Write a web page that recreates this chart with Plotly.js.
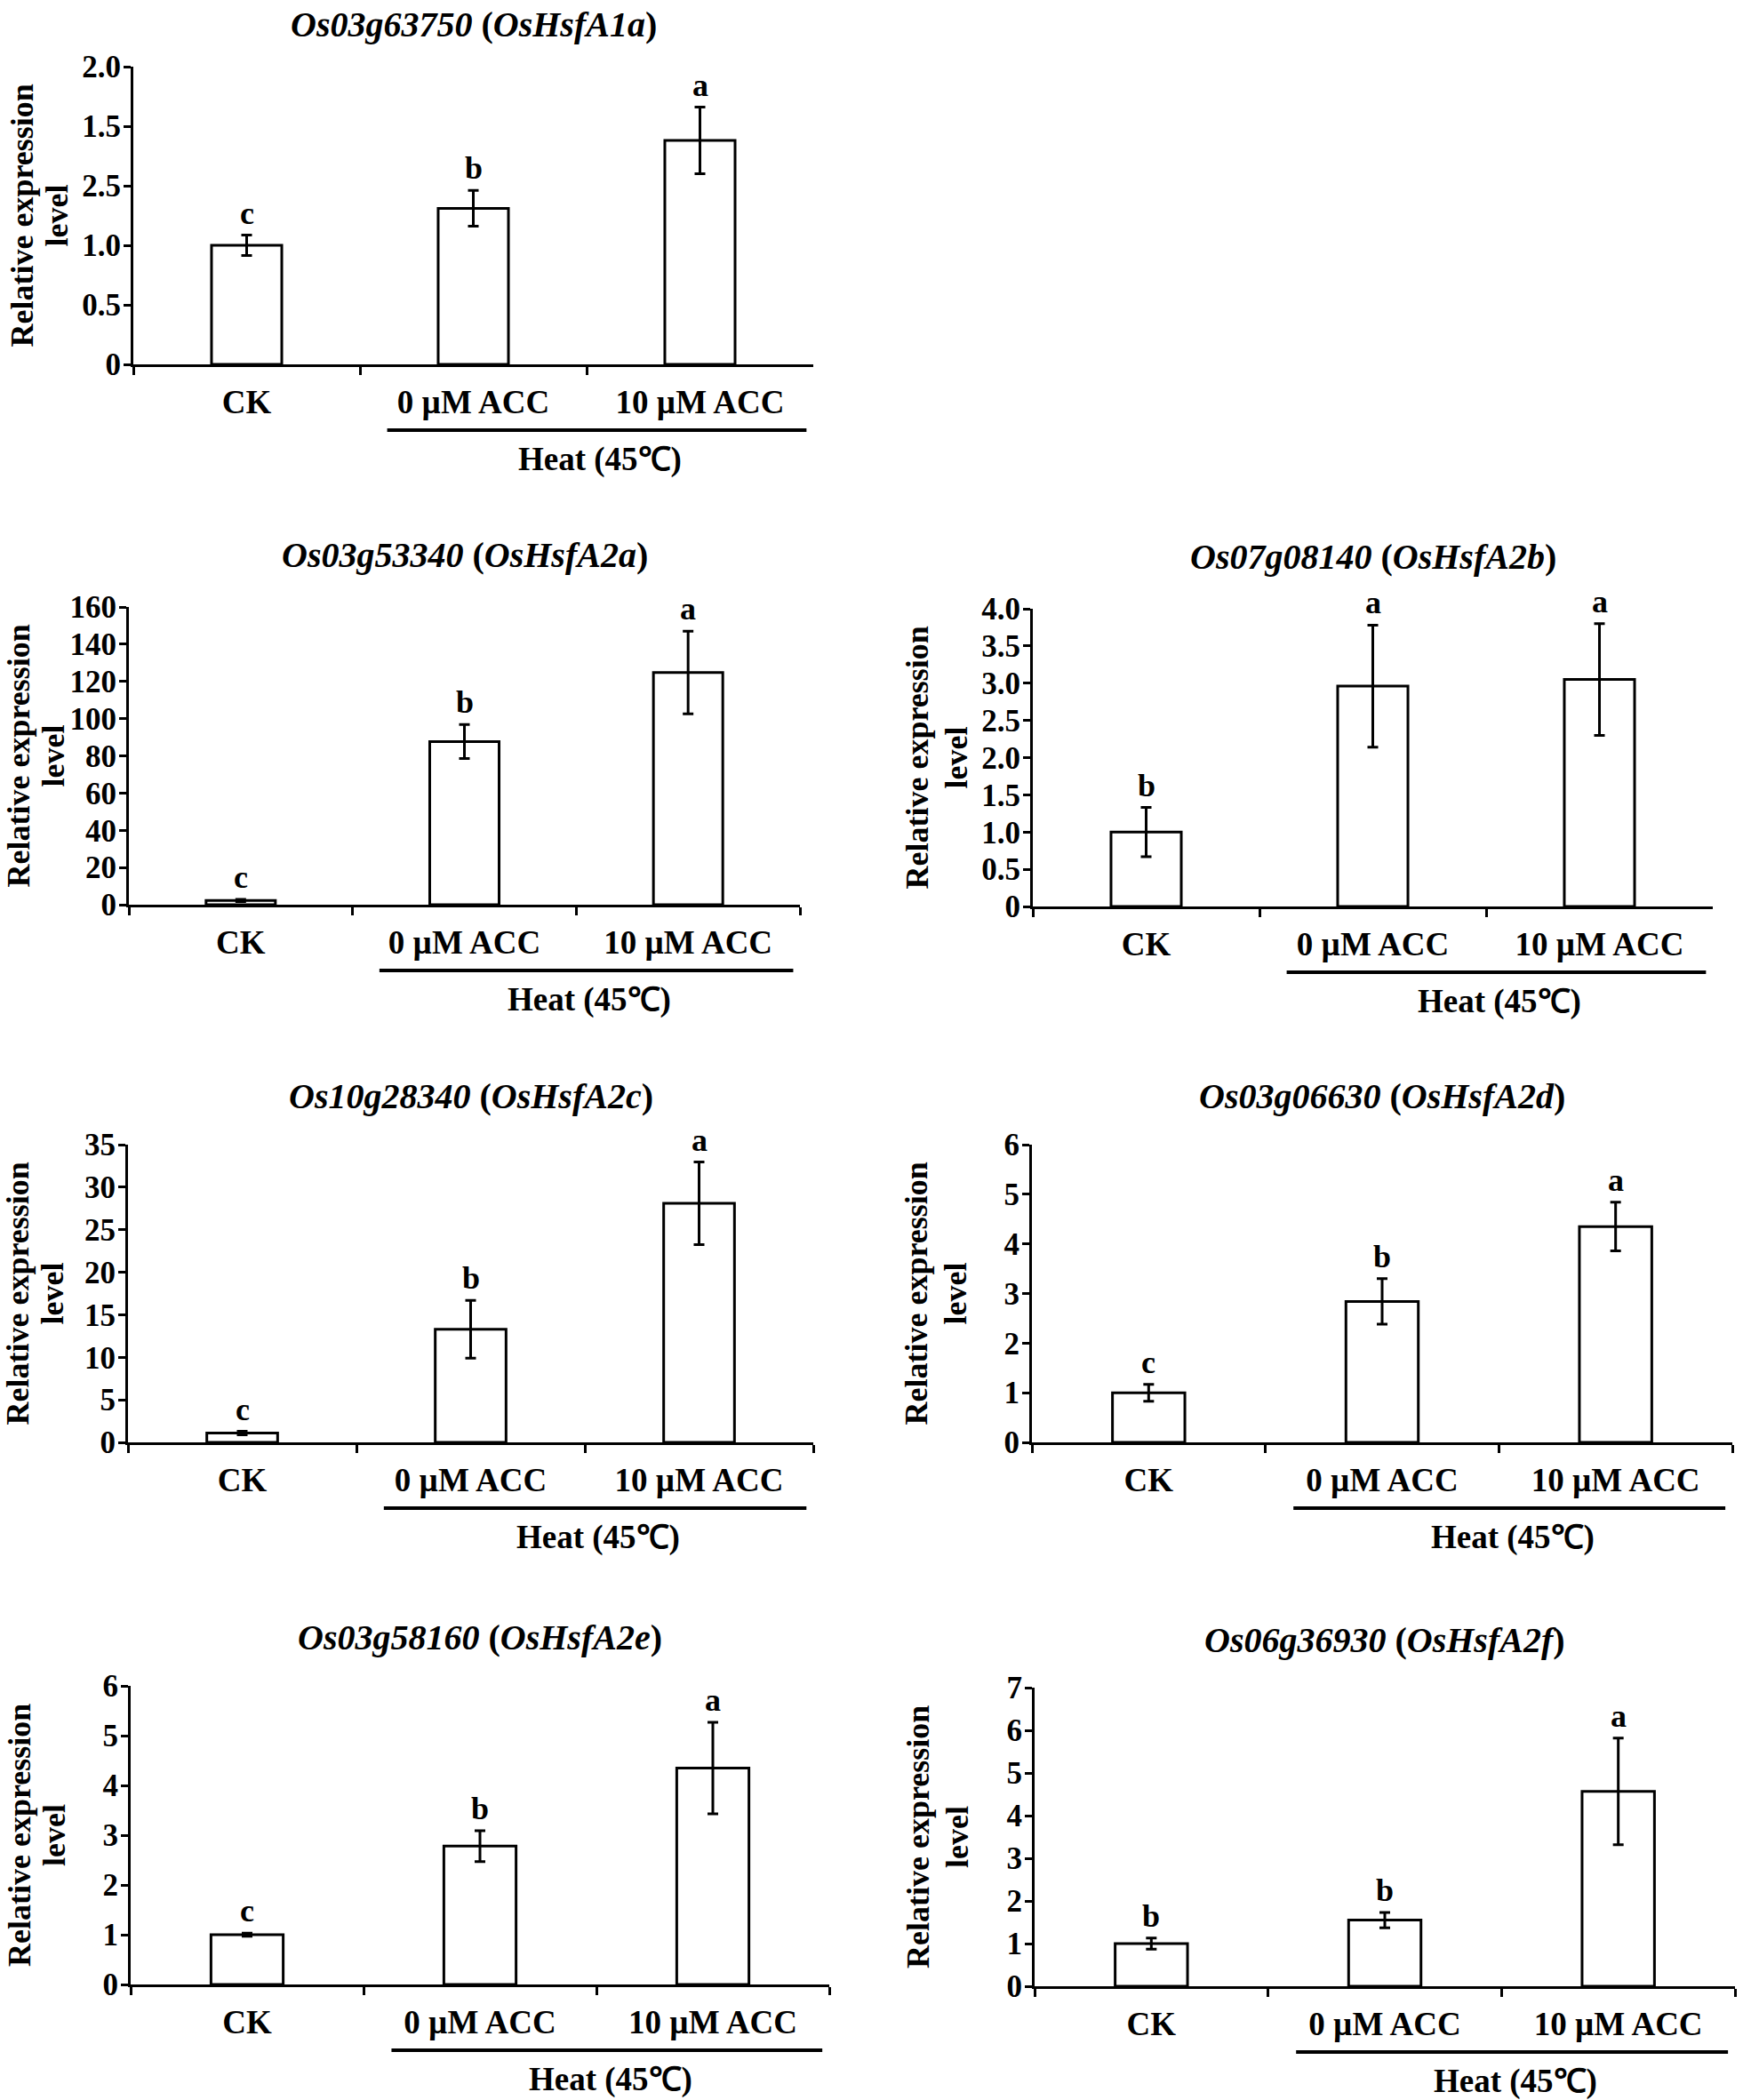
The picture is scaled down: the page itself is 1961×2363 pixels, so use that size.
<!DOCTYPE html>
<html>
<head>
<meta charset="utf-8">
<script src="https://cdn.plot.ly/plotly-3.0.1.min.js"></script>
<style>html,body{margin:0;padding:0;background:#fff}</style>
</head>
<body>
<div id="chart" style="width:1961px;height:2363px"></div>
<script>
// ---------------- data ----------------
const categories = ["CK", "0 µM ACC", "10 µM ACC"];
const groupLabel = "Heat (45℃)";
const yTitleLines = ["Relative expression", "level"];

const geneIds   = ["Os03g63750", "Os03g53340", "Os07g08140", "Os10g28340", "Os03g06630", "Os03g58160", "Os06g36930"];
const geneNames = ["OsHsfA1a",   "OsHsfA2a",   "OsHsfA2b",   "OsHsfA2c",   "OsHsfA2d",   "OsHsfA2e",   "OsHsfA2f"];

const meanA1a = [1.0, 1.31, 1.88];   const errA1a = [0.085, 0.15, 0.28];  const letA1a = ["c", "b", "a"];
const meanA2a = [2.3, 87.7, 124.8];  const errA2a = [0.6, 9.1, 22.2];     const letA2a = ["c", "b", "a"];
const meanA2b = [1.0, 2.96, 3.05];   const errA2b = [0.33, 0.82, 0.75];   const letA2b = ["b", "a", "a"];
const meanA2c = [1.1, 13.3, 28.1];   const errA2c = [0.2, 3.4, 4.85];     const letA2c = ["c", "b", "a"];
const meanA2d = [1.0, 2.84, 4.35];   const errA2d = [0.17, 0.46, 0.49];   const letA2d = ["c", "b", "a"];
const meanA2e = [1.0, 2.78, 4.35];   const errA2e = [0.03, 0.31, 0.92];   const letA2e = ["c", "b", "a"];
const meanA2f = [1.0, 1.55, 4.57];   const errA2f = [0.13, 0.18, 1.25];   const letA2f = ["b", "b", "a"];

// tick values and the tick labels exactly as printed
const tvA1a = [0, 0.5, 1, 1.5, 2, 2.5];                 const ttA1a = ["0", "0.5", "1.0", "2.5", "1.5", "2.0"];
const tvA2a = [0, 20, 40, 60, 80, 100, 120, 140, 160];  const ttA2a = ["0", "20", "40", "60", "80", "100", "120", "140", "160"];
const tvA2b = [0, 0.5, 1, 1.5, 2, 2.5, 3, 3.5, 4];      const ttA2b = ["0", "0.5", "1.0", "1.5", "2.0", "2.5", "3.0", "3.5", "4.0"];
const tvA2c = [0, 5, 10, 15, 20, 25, 30, 35];           const ttA2c = ["0", "5", "10", "15", "20", "25", "30", "35"];
const tvA2d = [0, 1, 2, 3, 4, 5, 6];                    const ttA2d = ["0", "1", "2", "3", "4", "5", "6"];
const tvA2e = [0, 1, 2, 3, 4, 5, 6];                    const ttA2e = ["0", "1", "2", "3", "4", "5", "6"];
const tvA2f = [0, 1, 2, 3, 4, 5, 6, 7];                 const ttA2f = ["0", "1", "2", "3", "4", "5", "6", "7"];

const means   = [meanA1a, meanA2a, meanA2b, meanA2c, meanA2d, meanA2e, meanA2f];
const errs    = [errA1a, errA2a, errA2b, errA2c, errA2d, errA2e, errA2f];
const letters = [letA1a, letA2a, letA2b, letA2c, letA2d, letA2e, letA2f];
const tickVals = [tvA1a, tvA2a, tvA2b, tvA2c, tvA2d, tvA2e, tvA2f];
const tickTexts = [ttA1a, ttA2a, ttA2b, ttA2c, ttA2d, ttA2e, ttA2f];

// ---------------- layout geometry (pixels) ----------------
const W = 1961, H = 2363;
const boxes = [
  {x0: 150,  x1: 915,  yTop: 75,   yZero: 410,  tOff: 47, ytShift: [-125, -86]},
  {x0: 145,  x1: 900,  yTop: 683,  yZero: 1018, tOff: 59, ytShift: [-125, -86]},
  {x0: 1162, x1: 1927, yTop: 685,  yZero: 1020, tOff: 59, ytShift: [-131, -87]},
  {x0: 144,  x1: 915,  yTop: 1288, yZero: 1623, tOff: 55, ytShift: [-125, -86]},
  {x0: 1161, x1: 1949, yTop: 1288, yZero: 1623, tOff: 55, ytShift: [-131, -87]},
  {x0: 147,  x1: 933,  yTop: 1897, yZero: 2233, tOff: 55, ytShift: [-125, -86]},
  {x0: 1164, x1: 1952, yTop: 1899, yZero: 2235, tOff: 54, ytShift: [-131, -87]}
];

const FONT = "Liberation Serif, 'Times New Roman', Times, serif";
const BLACK = "#000";

const data = [];
const layout = {
  width: W, height: H,
  margin: {l: 0, r: 0, t: 0, b: 0},
  paper_bgcolor: "#fff", plot_bgcolor: "rgba(0,0,0,0)",
  showlegend: false,
  font: {family: FONT, color: BLACK, weight: "bold"},
  annotations: [], shapes: []
};

boxes.forEach((b, i) => {
  const n = i === 0 ? "" : String(i + 1);
  const xa = "x" + n, ya = "y" + n;
  const tv = tickVals[i];
  const yLen = b.yZero - b.yTop;

  data.push({
    type: "bar",
    x: categories,
    y: means[i],
    width: 0.31,
    xaxis: xa, yaxis: ya,
    marker: {color: "#fff", line: {color: BLACK, width: 3}},
    error_y: {type: "data", array: errs[i], visible: true, color: BLACK, thickness: 3, width: 6},
    cliponaxis: false,
    hoverinfo: "skip"
  });

  layout["xaxis" + n] = {
    domain: [b.x0 / W, b.x1 / W],
    anchor: ya,
    type: "category",
    categoryorder: "array", categoryarray: categories,
    range: [-0.5, categories.length - 0.5],
    showline: true, linewidth: 3, linecolor: BLACK,
    ticks: "outside", tickson: "boundaries", ticklen: 9, tickwidth: 3, tickcolor: BLACK,
    tickfont: {family: FONT, size: 37, color: BLACK, weight: "bold"},
    ticklabelstandoff: 8,
    showgrid: false, zeroline: false, fixedrange: true
  };
  layout["yaxis" + n] = {
    domain: [1 - b.yZero / H, 1 - b.yTop / H],
    anchor: xa,
    range: [0, tv[tv.length - 1]],
    tickmode: "array", tickvals: tv, ticktext: tickTexts[i],
    showline: true, linewidth: 3, linecolor: BLACK,
    ticks: "outside", ticklen: 8, tickwidth: 3, tickcolor: BLACK,
    tickfont: {family: FONT, size: 35, color: BLACK, weight: "bold"},
    ticklabelstandoff: -4,
    showgrid: false, zeroline: false, fixedrange: true
  };

  // panel title
  layout.annotations.push({
    xref: xa + " domain", yref: ya + " domain", x: 0.5, y: 1,
    xanchor: "center", yanchor: "middle", yshift: b.tOff, showarrow: false,
    text: "<i>" + geneIds[i] + "</i> (<i>" + geneNames[i] + "</i>)",
    font: {family: FONT, size: 40, color: BLACK, weight: "bold"}
  });
  // y title (two lines)
  yTitleLines.forEach((line, k) => {
    layout.annotations.push({
      xref: xa + " domain", yref: ya + " domain", x: 0, y: 0.5,
      xanchor: "center", yanchor: "middle", xshift: b.ytShift[k], textangle: -90, showarrow: false,
      text: line,
      font: {family: FONT, size: 36, color: BLACK, weight: "bold"}
    });
  });
  // significance letters
  categories.forEach((c, k) => {
    layout.annotations.push({
      xref: xa, yref: ya, x: c, y: means[i][k] + errs[i][k],
      xanchor: "center", yanchor: "bottom", yshift: 3, showarrow: false,
      text: letters[i][k],
      font: {family: FONT, size: 36, color: BLACK, weight: "bold"}
    });
  });
  // heat group bracket + label
  layout.shapes.push({
    type: "line", xref: xa, yref: ya + " domain",
    x0: 0.62, x1: 2.47, y0: -74 / yLen, y1: -74 / yLen,
    line: {color: BLACK, width: 4}
  });
  layout.annotations.push({
    xref: xa, yref: ya + " domain", x: 1.56, y: 0,
    xanchor: "center", yanchor: "middle", yshift: -107, showarrow: false,
    text: groupLabel,
    font: {family: FONT, size: 37, color: BLACK, weight: "bold"}
  });
});

Plotly.newPlot("chart", data, layout, {staticPlot: true, displayModeBar: false});
</script>
</body>
</html>
